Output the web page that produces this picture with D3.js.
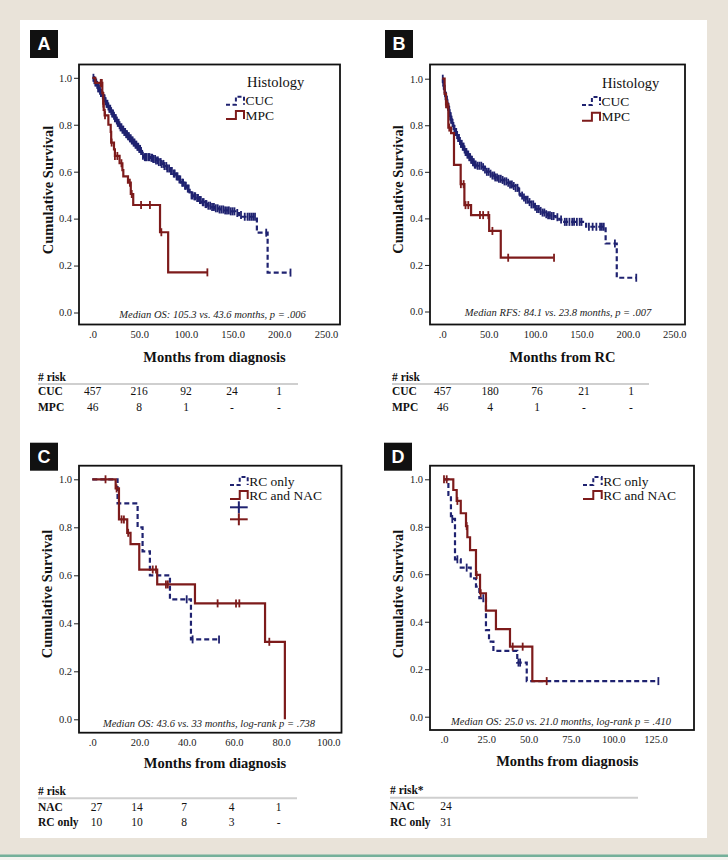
<!DOCTYPE html>
<html><head><meta charset="utf-8">
<script src="https://cdn.jsdelivr.net/npm/d3@7"></script>
<style>
html,body{margin:0;padding:0;background:#e9e3d9;}
svg{display:block;}
</style></head><body>
<svg id="c" width="728" height="860"></svg>
<script>
// ---------------- DATA ----------------
const yTicks = [0, 0.2, 0.4, 0.6, 0.8, 1.0];
const xTicksAB = [0, 50, 100, 150, 200, 250];
const xTicksC = [0, 20, 40, 60, 80, 100];
const xTicksD = [0, 25, 50, 75, 100, 125];

// Panel A: overall survival by histology  [month, survival]
const A_CUC_steps = [[0,1.0],[1.5,0.99],[3,0.98],[4.5,0.97],[6,0.955],[7.5,0.945],[9,0.935],[10.5,0.925],[12,0.912],[13.5,0.9],[15,0.889],[16.5,0.878],[18,0.868],[19.5,0.858],[21,0.848],[22.5,0.838],[24,0.828],[25.5,0.818],[27,0.808],[28.5,0.798],[30,0.789],[32,0.779],[34,0.769],[36,0.76],[38,0.751],[40,0.742],[42,0.733],[44,0.724],[46,0.715],[48,0.706],[50,0.697],[52,0.688],[53,0.668],[55,0.662],[62,0.659],[65,0.654],[68,0.648],[71,0.641],[74,0.633],[77,0.624],[80,0.614],[83,0.603],[86,0.592],[89,0.58],[92,0.567],[95,0.553],[98,0.54],[101,0.528],[104,0.512],[105.3,0.499],[108,0.495],[111,0.488],[114,0.479],[117,0.47],[120,0.462],[123,0.455],[127,0.449],[131,0.444],[136,0.439],[142,0.435],[148,0.431],[153,0.424],[157,0.415],[160,0.408],[176,0.34],[187.5,0.17]];
const A_CUC_end = 212;
const A_CUC_censor = [1,2,3,4,5,6,7,8,9,10,11,12,13,14,15,16,17,18,19,20,21,22,23,24,25,26,27,28,29,30,31,32,33,34,35,36,37,38,39,40,41,42,43,44,45,46,47,48,49,50,51,52,54,56,57,58,60,61,63,64,65,67,68,70,71,73,74,76,77,79,80,82,84,85,87,88,90,91,93,94,96,97,99,100,102,103,106,107,109,110,112,113,115,116,118,119,121,122,124,126,128,130,132,134,136,138,140,142,144,146,148,150,152,155,159,163,166,168,170,172,174,186,212];
const A_MPC_steps = [[0,1],[3,0.978],[10.5,0.935],[11.5,0.89],[12,0.863],[13,0.84],[17,0.8],[19.5,0.77],[20,0.724],[23,0.695],[24,0.667],[29,0.636],[32,0.607],[33,0.58],[38,0.553],[41,0.505],[43.6,0.458],[72.3,0.342],[81,0.171]];
const A_MPC_end = 123;
const A_MPC_censor = [8.8,10,11.6,13.4,20.5,24,26.6,31,40,42,52,61.5,73.7,123];

// Panel B: recurrence-free survival by histology
const B_CUC_steps = [[0,1],[0.7,0.985],[1.4,0.97],[2.1,0.955],[2.8,0.94],[3.5,0.925],[4.3,0.91],[5.1,0.895],[5.9,0.88],[6.7,0.866],[7.6,0.852],[8.5,0.838],[9.5,0.824],[10.5,0.81],[11.6,0.797],[12.8,0.784],[14,0.771],[15.3,0.758],[16.7,0.745],[18.2,0.732],[19.8,0.72],[21.5,0.708],[23.2,0.696],[25,0.685],[27,0.674],[29,0.663],[31,0.652],[33,0.641],[35,0.631],[37,0.626],[44,0.62],[46,0.61],[48,0.6],[51,0.592],[54,0.584],[57,0.576],[60,0.57],[64,0.565],[67,0.559],[70,0.553],[73,0.546],[76,0.539],[79,0.531],[82,0.515],[84.1,0.498],[87,0.49],[90,0.48],[93,0.47],[96,0.46],[99,0.45],[102,0.44],[105,0.432],[108,0.425],[111,0.418],[114,0.413],[118,0.41],[122,0.405],[126,0.395],[130,0.385],[155,0.364],[176,0.292],[188,0.145]];
const B_CUC_end = 209;
const B_CUC_censor = [0.5,1,1.5,2,2.5,3,3.5,4,4.5,5,5.5,6,6.5,7,7.5,8,8.5,9,9.5,10,11,12,13,14,15,16,17,18,19,20,21,22,23,24,25,26,27,28,29,30,31,32,33,34,35,36,38,40,42,44,46,48,50,52,54,56,57,59,61,63,65,67,69,71,73,75,77,79,81,83,86,88,90,92,94,96,98,100,102,104,106,108,110,112,114,116,118,120,124,128,132,134,137,140,142,145,148,150,158,162,166,170,172,174,186,209];
const B_MPC_steps = [[0,1],[2.5,0.935],[4,0.89],[6.5,0.79],[9.5,0.766],[12.6,0.63],[19.8,0.547],[23.8,0.457],[31,0.414],[50.5,0.346],[63,0.231]];
const B_MPC_end = 120;
const B_MPC_censor = [4,5.4,7.5,20,23,25,28,40.6,44,49.6,54,71,120.4];

// Panel C
const C_RC_steps = [[0,1],[10.7,0.9],[19.2,0.8],[21.3,0.7],[24.4,0.6],[32.9,0.5],[41.8,0.333]];
const C_RC_end = 53.7;
const C_RC_censor = [40,42.5,53.7];
const C_NAC_steps = [[0,1],[9.9,0.962],[11.3,0.833],[14.8,0.777],[16.2,0.73],[19.9,0.624],[27.5,0.562],[43.5,0.483],[73.2,0.323],[81.6,0]];
const C_NAC_end = 81.6;
const C_NAC_censor = [5.6,10.3,12.4,13.4,15.2,25.6,27,31.2,32,53.1,60.9,62.3,75];

// Panel D
const D_RC_steps = [[0,1],[2.6,0.934],[4.1,0.833],[6.5,0.663],[9.9,0.628],[15.8,0.583],[18.9,0.548],[20.9,0.499],[24.8,0.365],[26.6,0.316],[29.2,0.277],[43.3,0.228],[48.9,0.15]];
const D_RC_end = 126.7;
const D_RC_censor = [4.9,7.9,13.4,23.2,44,45,126.7];
const D_NAC_steps = [[0,1],[5.5,0.955],[7.5,0.909],[9.9,0.857],[13,0.803],[13.8,0.756],[15.4,0.702],[18.9,0.597],[21.3,0.52],[24.8,0.447],[30.7,0.369],[39,0.295],[52.2,0.15]];
const D_NAC_end = 60.7;
const D_NAC_censor = [0,1.6,7.9,13.4,19.3,21.7,40.6,46.5,60.7];

// Risk tables
const riskA_labels = ["CUC", "MPC"];
const riskA_CUC = ["457", "216", "92", "24", "1"];
const riskA_MPC = ["46", "8", "1", "-", "-"];
const riskB_labels = ["CUC", "MPC"];
const riskB_CUC = ["457", "180", "76", "21", "1"];
const riskB_MPC = ["46", "4", "1", "-", "-"];
const riskC_labels = ["NAC", "RC only"];
const riskC_NAC = ["27", "14", "7", "4", "1"];
const riskC_RC = ["10", "10", "8", "3", "-"];
const riskD_labels = ["NAC", "RC only"];
const riskD_NAC = ["24"];
const riskD_RC = ["31"];

const legendAB = ["CUC", "MPC"];
const legendCD = ["RC only", "RC and NAC"];

// ---------------- STYLE / LAYOUT ----------------
const NAVY = "#1f2270", RED = "#7d1b1b";
const SERIF = "'Liberation Serif','Times New Roman',serif";
const svg = d3.select("#c");

svg.append("rect").attr("width",728).attr("height",860).attr("fill","#e9e3d9");
svg.append("rect").attr("x",20).attr("y",20).attr("width",687).attr("height",818).attr("fill","#ffffff");
svg.append("rect").attr("x",0).attr("y",854.5).attr("width",728).attr("height",2.5).attr("fill","#74b09a");
svg.append("rect").attr("x",0).attr("y",857).attr("width",728).attr("height",3).attr("fill","#f3f3ef");

function survAt(steps, t) {
  let s = steps[0][1];
  for (const [tt, ss] of steps) { if (tt <= t) s = ss; else break; }
  return s;
}

function drawPanel(p) {
  const g = svg.append("g");
  const x = d3.scaleLinear().domain([0, p.xTicks[p.xTicks.length-1]]).range([p.x0, p.xEnd]);
  const y = d3.scaleLinear().domain([0, 1]).range([p.y0, p.y1]);

  // label box
  g.append("rect").attr("x",p.box[0]).attr("y",p.box[1]).attr("width",28).attr("height",28).attr("fill","#111");
  g.append("text").attr("x",p.box[0]+14).attr("y",p.box[1]+14).attr("dy","0.36em")
    .attr("text-anchor","middle").attr("font-family","'Liberation Sans',Arial,sans-serif")
    .attr("font-weight","bold").attr("font-size",18).attr("fill","#fff").text(p.letter);

  // axes
  const ya = g.append("g").attr("transform",`translate(${p.fx1},0)`)
    .call(d3.axisLeft(y).tickValues(yTicks).tickFormat(d3.format(".1f")).tickSize(5).tickPadding(2));
  ya.select(".domain").remove();
  ya.selectAll("line").attr("stroke","#222").attr("stroke-width",1);
  ya.selectAll("text").attr("font-family",SERIF).attr("font-size",10.5).attr("fill","#222");

  const xa = g.append("g").attr("transform",`translate(0,${p.fy2})`)
    .call(d3.axisBottom(x).tickValues(p.xTicks).tickFormat(d => d === 0 ? ".0" : d3.format(".1f")(d)).tickSize(0).tickPadding(6));
  xa.select(".domain").remove();
  xa.selectAll("text").attr("font-family",SERIF).attr("font-size",10.5).attr("fill","#222");

  // frame
  g.append("rect").attr("x",p.fx1).attr("y",p.fy1).attr("width",p.fx2-p.fx1).attr("height",p.fy2-p.fy1)
    .attr("fill","none").attr("stroke","#111").attr("stroke-width",1.8);

  // titles
  g.append("text").attr("transform",`translate(${p.yTitle[0]},${p.yTitle[1]}) rotate(-90)`).attr("dy","0.35em")
    .attr("text-anchor","middle").attr("font-family",SERIF).attr("font-weight","bold").attr("font-size",14.5)
    .attr("fill","#111").text("Cumulative Survival");
  g.append("text").attr("x",p.xTitle[0]).attr("y",p.xTitle[1]).attr("dy","0.35em")
    .attr("text-anchor","middle").attr("font-family",SERIF).attr("font-weight","bold").attr("font-size",14.5)
    .attr("fill","#111").text(p.xTitleText);
  g.append("text").attr("x",p.med[0]).attr("y",p.med[1]).attr("dy","0.35em")
    .attr("text-anchor","middle").attr("font-family",SERIF).attr("font-style","italic").attr("font-size",10.5)
    .attr("fill","#222").text(p.medText);

  // curves
  const line = d3.line().x(d => x(d[0])).y(d => y(d[1])).curve(d3.curveStepAfter);
  p.series.forEach(s => {
    const data = s.steps.concat([[s.end, s.steps[s.steps.length-1][1]]]);
    g.append("path").datum(data).attr("d", line).attr("fill","none")
      .attr("stroke", s.color).attr("stroke-width", 2.2)
      .attr("stroke-dasharray", s.dash ? "5,3" : null);
    g.selectAll(null).data(s.censor).enter().append("line")
      .attr("x1", t => x(t)).attr("x2", t => x(t))
      .attr("y1", t => y(survAt(s.steps, t)) - 4).attr("y2", t => y(survAt(s.steps, t)) + 4)
      .attr("stroke", s.color).attr("stroke-width", 1.8);
  });

  // legend
  const L = p.legend;
  if (L.title) {
    g.append("text").attr("x",L.title[0]).attr("y",L.title[1]).attr("dy","0.35em")
      .attr("font-family",SERIF).attr("font-size",14.5).attr("fill","#111").text(L.title[2]);
  }
  L.items.forEach((name, i) => {
    const cy = L.ys[i];
    const s = p.series[i];
    const xm = L.x0 + (L.x1 - L.x0) * 0.55;
    g.append("path").attr("d", `M${L.x0},${cy+4}H${xm}V${cy-4}H${L.x1}V${cy+4}`)
      .attr("fill","none").attr("stroke", s.color).attr("stroke-width", 2)
      .attr("stroke-dasharray", s.dash ? "4,2.5" : null);
    g.append("text").attr("x", L.x1 + 1.5).attr("y", cy).attr("dy","0.35em")
      .attr("font-family",SERIF).attr("font-size",13.5).attr("fill","#111").text(name);
  });
  if (L.crosses) {
    L.crosses.forEach((cy, i) => {
      const c = p.series[i].color;
      g.append("line").attr("x1",L.x0).attr("x2",L.x1).attr("y1",cy).attr("y2",cy).attr("stroke",c).attr("stroke-width",2);
      const cx = (L.x0 + L.x1) / 2;
      g.append("line").attr("x1",cx).attr("x2",cx).attr("y1",cy-6).attr("y2",cy+6).attr("stroke",c).attr("stroke-width",2);
    });
  }

  // risk table
  const R = p.risk;
  g.append("text").attr("x",R.x).attr("y",R.hy).attr("dy","0.35em").attr("font-family",SERIF)
    .attr("font-weight","bold").attr("font-size",11.5).attr("fill","#111").text(R.header);
  g.append("line").attr("x1",R.x).attr("x2",R.lineX2).attr("y1",R.ly).attr("y2",R.ly)
    .attr("stroke","#cfcfcf").attr("stroke-width",2);
  R.labels.forEach((lab, i) => {
    g.append("text").attr("x",R.x).attr("y",R.rows[i]).attr("dy","0.35em").attr("font-family",SERIF)
      .attr("font-weight","bold").attr("font-size",11.5).attr("fill","#111").text(lab);
    g.selectAll(null).data(R.values[i]).enter().append("text")
      .attr("x", (d, j) => R.cols[j]).attr("y", R.rows[i]).attr("dy","0.35em")
      .attr("text-anchor","middle").attr("font-family",SERIF).attr("font-size",11.5).attr("fill","#111")
      .text(d => d);
  });
}

drawPanel({
  letter:"A", box:[30,30], fx1:79, fx2:340, fy1:64.5, fy2:324.5,
  x0:92.5, xEnd:326, y0:312.5, y1:77.8, xTicks:xTicksAB,
  yTitle:[48,190], xTitle:[214.5,357], xTitleText:"Months from diagnosis",
  med:[212.5,314], medText:"Median OS: 105.3 vs. 43.6 months, p = .006",
  series:[
    {steps:A_CUC_steps, end:A_CUC_end, censor:A_CUC_censor, color:NAVY, dash:true},
    {steps:A_MPC_steps, end:A_MPC_end, censor:A_MPC_censor, color:RED, dash:false}],
  legend:{title:[247,81.7,"Histology"], items:legendAB, x0:226, x1:244, ys:[100.7,115]},
  risk:{header:"# risk", x:38, hy:377, ly:384, lineX2:298, rows:[390.7,407], labels:riskA_labels,
        values:[riskA_CUC, riskA_MPC], cols:[92.7,139,186,232,279]}
});

drawPanel({
  letter:"B", box:[385,30], fx1:430, fx2:685, fy1:64.5, fy2:324.5,
  x0:442.3, xEnd:674.3, y0:311.5, y1:78.7, xTicks:xTicksAB,
  yTitle:[398.3,189.5], xTitle:[562.5,357], xTitleText:"Months from RC",
  med:[558,312], medText:"Median RFS: 84.1 vs. 23.8 months, p = .007",
  series:[
    {steps:B_CUC_steps, end:B_CUC_end, censor:B_CUC_censor, color:NAVY, dash:true},
    {steps:B_MPC_steps, end:B_MPC_end, censor:B_MPC_censor, color:RED, dash:false}],
  legend:{title:[602,83,"Histology"], items:legendAB, x0:582, x1:600, ys:[101,116.7]},
  risk:{header:"# risk", x:392, hy:377, ly:384, lineX2:649, rows:[390.7,407], labels:riskB_labels,
        values:[riskB_CUC, riskB_MPC], cols:[442.7,490,537,584,631]}
});

drawPanel({
  letter:"C", box:[30,442.7], fx1:79, fx2:341.5, fy1:465.7, fy2:732.7,
  x0:92.3, xEnd:328.3, y0:719.3, y1:479.3, xTicks:xTicksC,
  yTitle:[47.3,594], xTitle:[215,763.3], xTitleText:"Months from diagnosis",
  med:[209,723.3], medText:"Median OS: 43.6 vs. 33 months, log-rank p = .738",
  series:[
    {steps:C_RC_steps, end:C_RC_end, censor:C_RC_censor, color:NAVY, dash:true},
    {steps:C_NAC_steps, end:C_NAC_end, censor:C_NAC_censor, color:RED, dash:false}],
  legend:{items:legendCD, x0:230, x1:247.7, ys:[481,495], crosses:[507.3,519.3]},
  risk:{header:"# risk", x:38, hy:791, ly:798.3, lineX2:297, rows:[806.7,822.3], labels:riskC_labels,
        values:[riskC_NAC, riskC_RC], cols:[96.5,137,184,231.7,278.7]}
});

drawPanel({
  letter:"D", box:[384,442.7], fx1:430, fx2:694, fy1:465.7, fy2:730,
  x0:444, xEnd:655.5, y0:716.7, y1:479.3, xTicks:xTicksD,
  yTitle:[398.3,594], xTitle:[567.3,761], xTitleText:"Months from diagnosis",
  med:[561,721], medText:"Median OS: 25.0 vs. 21.0 months, log-rank p = .410",
  series:[
    {steps:D_RC_steps, end:D_RC_end, censor:D_RC_censor, color:NAVY, dash:true},
    {steps:D_NAC_steps, end:D_NAC_end, censor:D_NAC_censor, color:RED, dash:false}],
  legend:{items:legendCD, x0:583, x1:601.7, ys:[481,495]},
  risk:{header:"# risk*", x:390, hy:790, ly:797.7, lineX2:638, rows:[806,821.7], labels:riskD_labels,
        values:[riskD_NAC, riskD_RC], cols:[446]}
});
</script></body></html>
